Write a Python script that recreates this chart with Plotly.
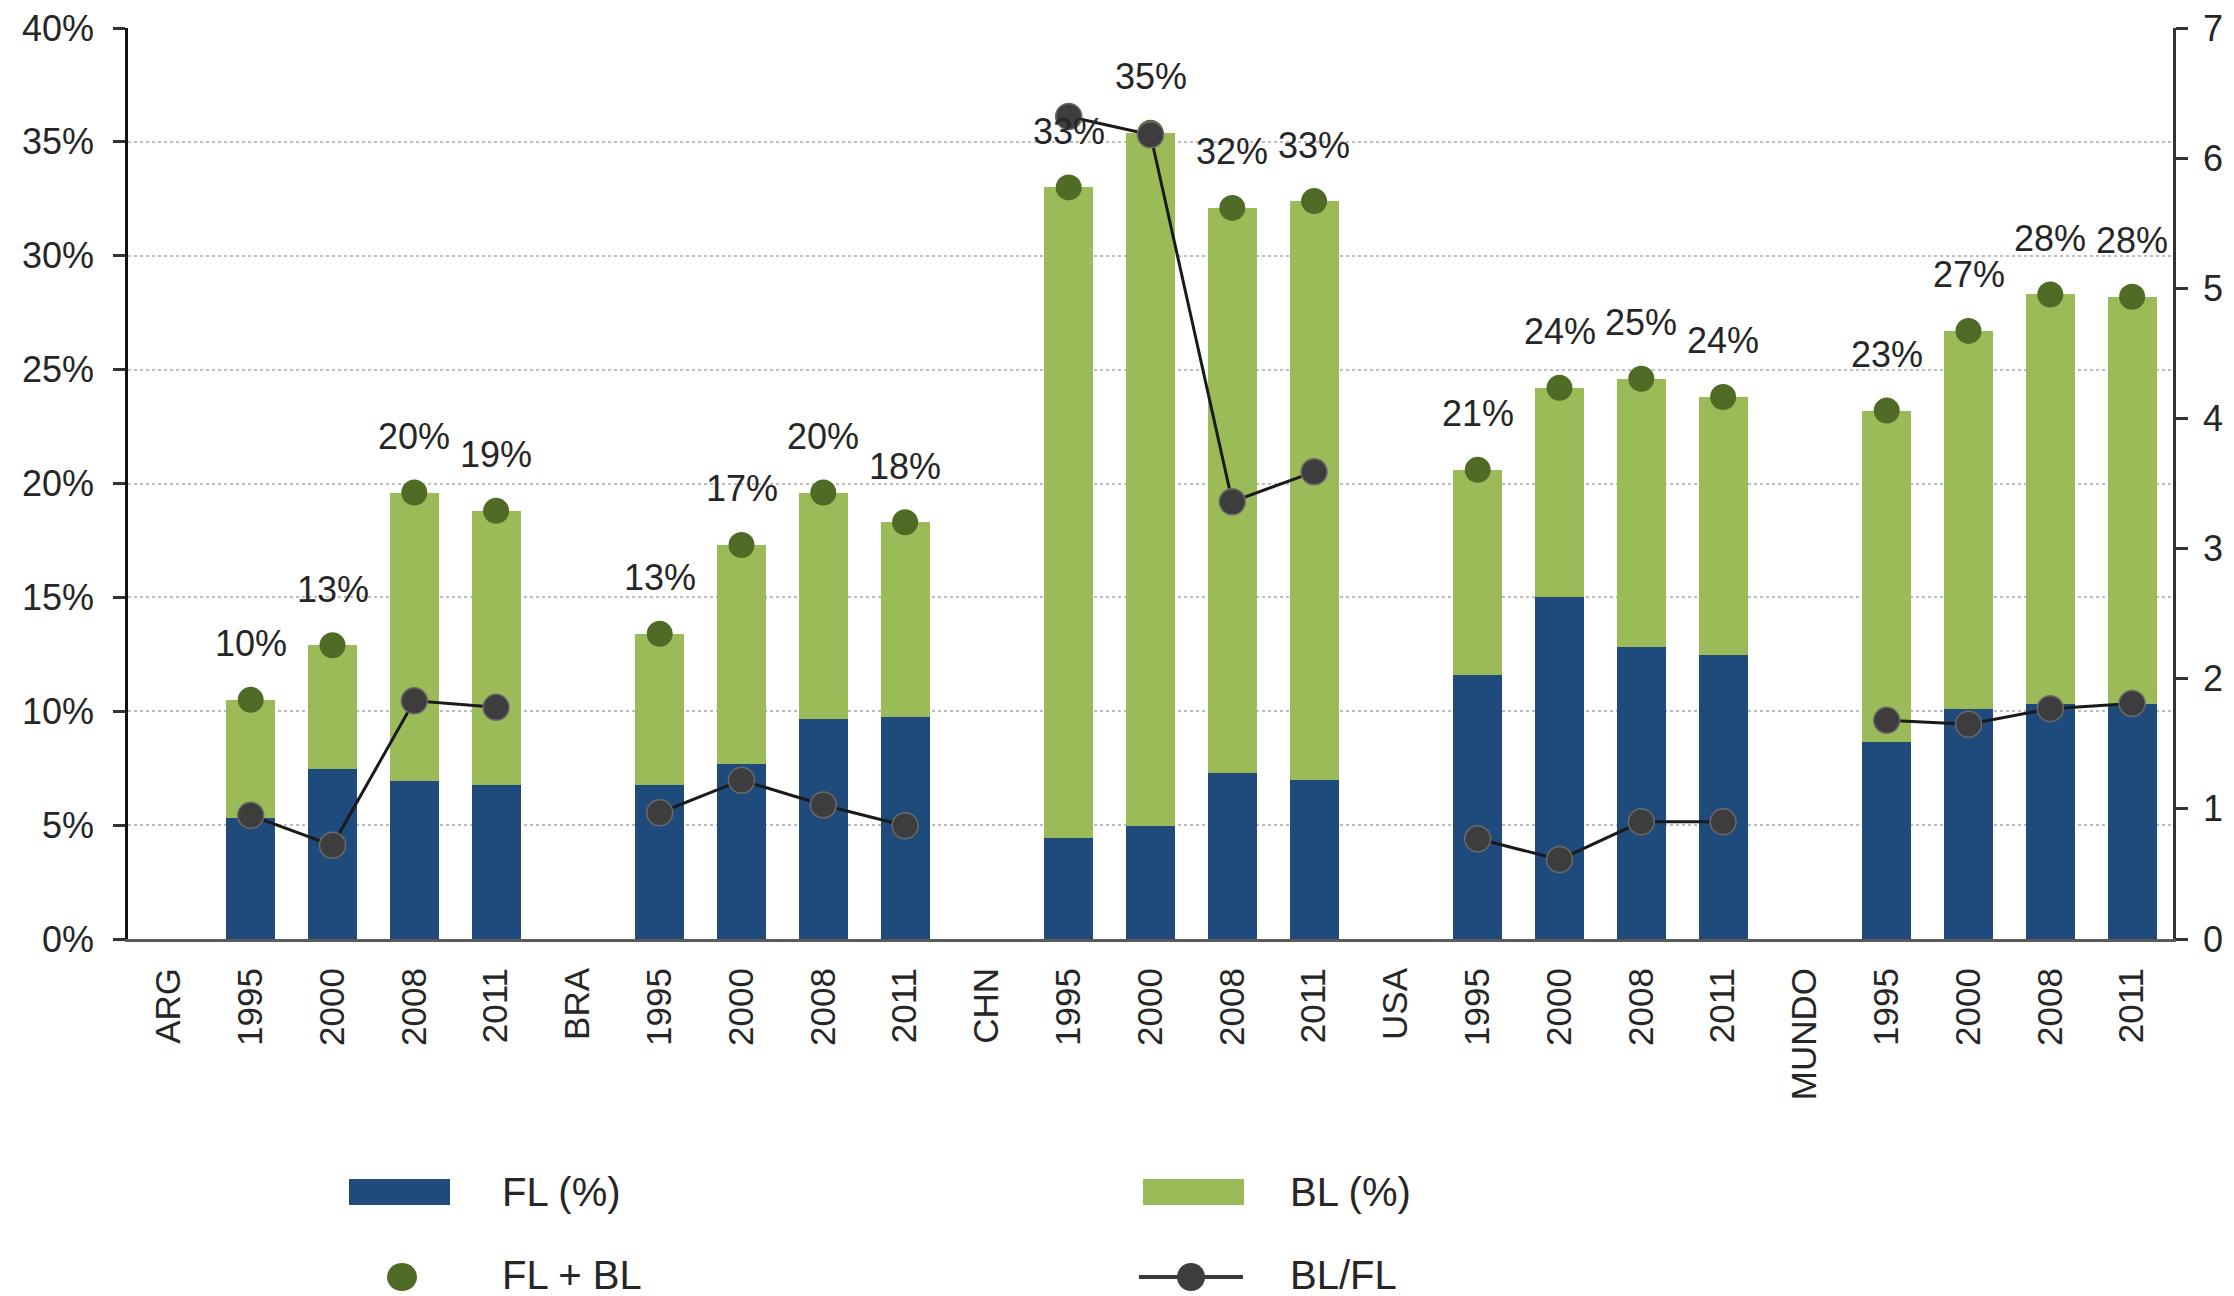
import plotly.graph_objects as go

# ---------------- data ----------------
categories = ["ARG", "1995", "2000", "2008", "2011",
              "BRA", "1995", "2000", "2008", "2011",
              "CHN", "1995", "2000", "2008", "2011",
              "USA", "1995", "2000", "2008", "2011",
              "MUNDO", "1995", "2000", "2008", "2011"]

fl = [None, 5.3, 7.45, 6.95, 6.75,
      None, 6.75, 7.7, 9.65, 9.75,
      None, 4.45, 4.95, 7.3, 7.0,
      None, 11.6, 15.0, 12.8, 12.45,
      None, 8.65, 10.1, 10.3, 10.3]

bl = [None, 5.2, 5.45, 12.65, 12.05,
      None, 6.65, 9.6, 9.95, 8.55,
      None, 28.55, 30.45, 24.8, 25.4,
      None, 9.0, 9.2, 11.8, 11.35,
      None, 14.55, 16.6, 18.0, 17.9]

fl_bl = [None, 10.5, 12.9, 19.6, 18.8,
         None, 13.4, 17.3, 19.6, 18.3,
         None, 33.0, 35.4, 32.1, 32.4,
         None, 20.6, 24.2, 24.6, 23.8,
         None, 23.2, 26.7, 28.3, 28.2]

bl_fl = [None, 0.95, 0.72, 1.83, 1.78,
         None, 0.97, 1.22, 1.03, 0.87,
         None, 6.32, 6.18, 3.36, 3.59,
         None, 0.77, 0.61, 0.90, 0.90,
         None, 1.68, 1.65, 1.77, 1.81]

total_labels = [None, "10%", "13%", "20%", "19%",
                None, "13%", "17%", "20%", "18%",
                None, "33%", "35%", "32%", "33%",
                None, "21%", "24%", "25%", "24%",
                None, "23%", "27%", "28%", "28%"]

left_ticks = [0, 5, 10, 15, 20, 25, 30, 35, 40]
left_ticktext = ["0%", "5%", "10%", "15%", "20%", "25%", "30%", "35%", "40%"]
right_ticks = [0, 1, 2, 3, 4, 5, 6, 7]

legend_names = ["FL (%)", "BL (%)", "FL + BL", "BL/FL"]

# ---------------- style ----------------
C_FL = "#1f4a7c"
C_BL = "#9bbb59"
C_DOT = "#4f6b26"
C_RATIO = "#3d3d3d"
TXT = "#262626"
FONT = "Liberation Sans, Arial, sans-serif"

OFF = 8  # default page body margin
W, H = 2234 - OFF, 1296 - OFF
ML, MT = 120, 20
MR = W - 2165
MB = H - 931

x = list(range(len(categories)))

fig = go.Figure()
fig.add_trace(go.Bar(x=x, y=fl, name=legend_names[0], marker=dict(color=C_FL, line=dict(width=0)),
                     width=0.6, showlegend=False))
fig.add_trace(go.Bar(x=x, y=bl, name=legend_names[1], marker=dict(color=C_BL, line=dict(width=0)),
                     width=0.6, showlegend=False))
fig.add_trace(go.Scatter(x=x, y=fl_bl, name=legend_names[2], mode="markers",
                         marker=dict(color=C_DOT, size=26), showlegend=False))
fig.add_trace(go.Scatter(x=x, y=bl_fl, name=legend_names[3], mode="lines+markers", yaxis="y2",
                         connectgaps=False,
                         line=dict(color="#1a1a1a", width=3),
                         marker=dict(color=C_RATIO, size=26, line=dict(color="#6a6a6a", width=1.5)),
                         showlegend=False))

annotations = []
for xi, (t, lab) in enumerate(zip(fl_bl, total_labels)):
    if t is None:
        continue
    annotations.append(dict(x=xi, y=t, xref="x", yref="y", text=lab, showarrow=False,
                            yshift=56, yanchor="middle", xanchor="center",
                            font=dict(size=36, color=TXT, family=FONT)))

# ---------------- manual legend (page pixel positions) ----------------
pw = W - ML - MR
ph = H - MT - MB


def px2x(px):
    return (px - OFF - ML) / pw


def px2y(py):
    return (H - MB - (py - OFF)) / ph


shapes = []
shapes.append(dict(type="rect", xref="paper", yref="paper",
                   x0=px2x(349), x1=px2x(450), y0=px2y(1205), y1=px2y(1179),
                   fillcolor=C_FL, line=dict(width=0)))
shapes.append(dict(type="rect", xref="paper", yref="paper",
                   x0=px2x(1143), x1=px2x(1244), y0=px2y(1205), y1=px2y(1179),
                   fillcolor=C_BL, line=dict(width=0)))
shapes.append(dict(type="circle", xref="paper", yref="paper",
                   x0=px2x(387), x1=px2x(417), y0=px2y(1291), y1=px2y(1263),
                   fillcolor=C_DOT, line=dict(width=0)))
shapes.append(dict(type="line", xref="paper", yref="paper",
                   x0=px2x(1139), x1=px2x(1243), y0=px2y(1277), y1=px2y(1277),
                   line=dict(color="#3a3a3a", width=4)))
shapes.append(dict(type="circle", xref="paper", yref="paper",
                   x0=px2x(1177), x1=px2x(1205), y0=px2y(1291), y1=px2y(1263),
                   fillcolor=C_RATIO, line=dict(width=0)))

for name, px, py in [(legend_names[0], 500, 1192), (legend_names[1], 1288, 1192),
                     (legend_names[2], 500, 1275), (legend_names[3], 1288, 1275)]:
    annotations.append(dict(x=px2x(px), y=px2y(py), xref="paper", yref="paper", text=name,
                            showarrow=False, xanchor="left", yanchor="middle",
                            font=dict(size=40, color=TXT, family=FONT)))

fig.update_layout(
    width=W, height=H,
    margin=dict(l=ML, r=MR, t=MT, b=MB, autoexpand=False),
    paper_bgcolor="white", plot_bgcolor="white",
    barmode="stack", bargap=0.4,
    font=dict(family=FONT, color=TXT),
    showlegend=False,
    xaxis=dict(range=[-0.5, len(categories) - 0.5], tickmode="array", tickvals=x, ticktext=categories,
               tickangle=-90, tickfont=dict(size=35, color=TXT), showgrid=False, zeroline=False,
               showline=True, linecolor="#5a5a5a", linewidth=3, ticks="", ticklabelstandoff=12,
               automargin=False),
    yaxis=dict(range=[0, 40], tickmode="array", tickvals=left_ticks, ticktext=left_ticktext,
               tickfont=dict(size=36, color=TXT), showgrid=True, gridcolor="#bdbdbd", gridwidth=2,
               griddash="dot", zeroline=False, showline=True, linecolor="#111111", linewidth=2.5,
               ticks="outside", ticklen=12, tickwidth=3, tickcolor="#333333", ticklabelstandoff=12,
               ticklabeloverflow="allow", automargin=False),
    yaxis2=dict(range=[0, 7], tickmode="array", tickvals=right_ticks, overlaying="y", side="right",
                tickfont=dict(size=36, color=TXT), showgrid=False, zeroline=False, showline=True,
                linecolor="#333333", linewidth=2.5, ticks="outside", ticklen=12, tickwidth=3,
                tickcolor="#333333", ticklabelstandoff=8, ticklabeloverflow="allow", automargin=False),
    shapes=shapes,
    annotations=annotations,
)

fig.write_html("out.html")
